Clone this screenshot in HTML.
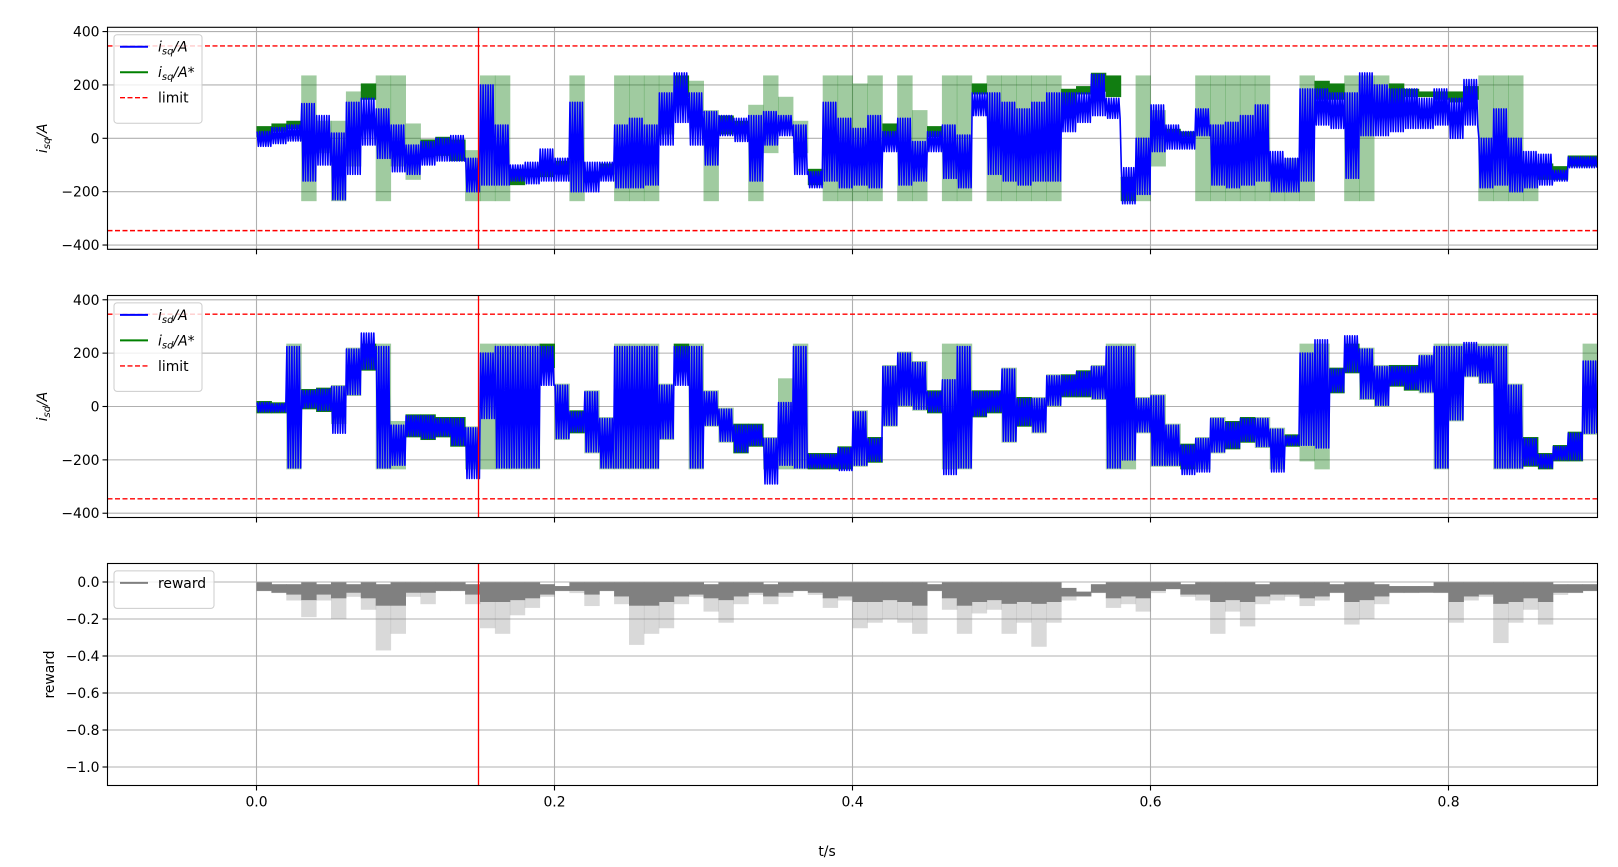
<!DOCTYPE html>
<html><head><meta charset="utf-8">
<style>
html,body{margin:0;padding:0;background:#fff;}
svg{display:block;font-family:"DejaVu Sans","Liberation Sans",sans-serif;}
</style></head>
<body>
<svg id="chart" width="1618" height="867" viewBox="0 0 1618 867" xmlns="http://www.w3.org/2000/svg"></svg>
<script>
// ---- data (binned every 0.01 s, t = 0.00 .. 0.89) ----
const binStart = 0.0, binWidth = 0.01;
const xTicks = [0.0, 0.2, 0.4, 0.6, 0.8];
const xTickLabels = ["0.0","0.2","0.4","0.6","0.8"];
const iTicks = [-400,-200,0,200,400];
const iTickLabels = ["\u2212400","\u2212200","0","200","400"];
const rTicks = [0.0,-0.2,-0.4,-0.6,-0.8,-1.0];
const rTickLabels = ["0.0","\u22120.2","\u22120.4","\u22120.6","\u22120.8","\u22121.0"];
const limitValue = 346;
const markerTime = 0.149;

const isqLo = [-30,-20,-10,-160,-100,-230,-135,-25,-75,-125,-135,-100,-85,-85,-200,-175,-175,-160,-170,-160,-160,-200,-200,-160,-185,-185,-175,-25,60,-25,-100,10,-12,-160,-25,10,-135,-185,-160,-185,-175,-185,-50,
 -175,-160,-50,-150,-185,85,-135,-160,-175,-160,-160,25,60,85,75,-245,-210,-50,-40,-40,10,-175,-185,-175,-160,-200,-200,-160,50,37,-150,10,10,25,37,37,50,0,50,-185,-175,-200,-185,-175,-160,-110,-110];
const isqHi = [25,40,50,130,85,20,135,150,110,50,-25,-12,0,10,-75,200,50,-100,-90,-40,-75,135,-90,-90,50,75,50,170,245,170,100,85,75,85,100,85,50,-125,135,75,37,85,25,
 75,-12,25,50,12,170,170,135,110,135,170,170,170,240,150,-110,0,125,50,25,110,50,60,85,125,-50,-75,185,185,170,170,245,200,185,185,150,185,150,220,0,110,0,-50,-60,-120,-70,-70];
const isqRefLo = [10,30,40,-230,-50,-230,-100,150,-230,-100,-150,-60,-60,-80,-230,-230,-230,-170,-140,-140,-130,-230,-160,-130,-230,-230,-230,20,160,100,-230,20,30,-230,-50,40,-50,-170,-230,-230,-230,-230,0,
 -230,-230,10,-230,-230,170,-230,-230,-230,-230,-230,120,170,180,160,-230,-230,-100,0,10,-230,-230,-230,-230,-230,-230,-230,-230,150,150,-230,-230,100,130,160,160,150,140,150,-230,-230,-230,-230,-150,-150,-100,-100];
const isqRefHi = [40,50,60,230,60,60,170,200,230,230,50,-10,0,-10,-50,230,230,-120,-120,-100,-90,230,-130,-100,230,230,230,230,230,210,100,80,60,120,230,150,60,-120,230,230,200,230,50,
 230,100,40,230,230,200,230,230,230,230,230,180,190,240,230,-150,230,100,30,20,230,230,230,230,230,-100,-80,230,210,200,230,230,230,200,180,170,170,170,190,230,230,230,-100,-100,-110,-70,-70];

const isdLo = [-20,-20,-230,-5,-15,-100,45,140,-230,-220,-110,-120,-110,-145,-270,-45,-230,-230,-230,80,-120,-95,-170,-230,-230,-230,-230,-120,80,-230,-70,-130,-170,-145,-290,-220,-230,-230,-230,-240,-220,-205,-70,
 5,-10,-20,-255,-230,-35,-20,-130,-70,-95,5,40,40,30,-230,-200,-95,-220,-220,-255,-245,-170,-155,-130,-150,-245,-145,-145,-155,55,130,30,5,80,65,55,-230,-50,115,90,-230,-230,-220,-230,-200,-200,-100];
const isdHi = [15,10,225,60,65,75,215,275,225,-70,-35,-35,-45,-45,-80,200,225,225,225,225,80,-20,55,-45,225,225,225,80,225,225,55,-10,-70,-70,-120,15,225,-180,-180,-155,-20,-120,150,
 200,165,55,100,225,55,55,140,30,30,115,115,130,150,225,225,30,40,-70,-145,-120,-45,-60,-45,-45,-85,-110,200,250,140,265,215,150,150,150,190,225,225,240,225,225,80,-120,-180,-150,-100,170];
const isdRefLo = [-20,-20,-230,-5,-15,-60,45,140,-230,-230,-110,-120,-110,-145,-230,-230,-230,-230,-230,150,-120,-95,-170,-230,-230,-230,-230,-120,180,-230,-70,-130,-170,-145,-230,-230,-230,-230,-230,-230,-220,-205,-70,
 5,-10,-20,-230,-230,-35,-20,-130,-70,-95,5,40,40,30,-230,-230,-95,-220,-220,-230,-230,-170,-155,-130,-150,-230,-145,-200,-230,55,130,30,5,80,65,55,-230,-50,115,90,-230,-230,-220,-230,-200,-200,-100];
const isdRefHi = [15,10,230,60,65,75,215,230,230,-60,-35,-35,-45,-45,-80,230,230,230,230,230,80,-20,55,-45,230,230,230,80,230,230,55,-10,-70,-70,-120,100,230,-180,-180,-155,-20,-120,150,
 200,165,55,230,230,55,55,140,30,30,115,115,130,150,230,230,30,40,-70,-145,-120,-45,-60,-45,-45,-85,-110,230,230,140,230,215,150,150,150,190,230,230,230,230,230,80,-120,-180,-150,-100,230];

const rewardHi = [-0.01,-0.02,-0.02,-0.01,-0.02,-0.01,-0.02,-0.01,-0.02,-0.01,-0.01,-0.01,-0.01,-0.01,-0.02,-0.01,-0.01,-0.01,-0.01,-0.02,
 -0.03,-0.01,-0.01,-0.01,-0.01,-0.01,-0.01,-0.01,-0.01,-0.01,-0.02,-0.01,-0.01,-0.01,-0.02,-0.01,-0.01,-0.01,-0.01,-0.01,
 -0.01,-0.01,-0.01,-0.01,-0.01,-0.02,-0.01,-0.01,-0.01,-0.01,-0.01,-0.01,-0.01,-0.01,-0.04,-0.06,-0.02,-0.01,-0.01,-0.01,
 -0.01,-0.01,-0.02,-0.01,-0.01,-0.01,-0.01,-0.02,-0.01,-0.01,-0.01,-0.01,-0.02,-0.01,-0.01,-0.02,-0.03,-0.03,-0.03,-0.01,
 -0.01,-0.01,-0.01,-0.01,-0.01,-0.01,-0.01,-0.02,-0.02,-0.02];
const rewardMid = [-0.04,-0.05,-0.06,-0.09,-0.06,-0.08,-0.05,-0.08,-0.12,-0.12,-0.05,-0.05,-0.04,-0.04,-0.06,-0.10,-0.10,-0.09,-0.08,-0.06,
 -0.04,-0.04,-0.06,-0.04,-0.07,-0.12,-0.12,-0.10,-0.07,-0.06,-0.08,-0.09,-0.07,-0.05,-0.07,-0.05,-0.04,-0.05,-0.08,-0.07,
 -0.10,-0.10,-0.09,-0.10,-0.12,-0.04,-0.08,-0.12,-0.10,-0.09,-0.11,-0.10,-0.11,-0.10,-0.07,-0.07,-0.05,-0.08,-0.07,-0.08,
 -0.04,-0.03,-0.06,-0.06,-0.10,-0.09,-0.10,-0.07,-0.06,-0.06,-0.08,-0.07,-0.05,-0.10,-0.09,-0.07,-0.05,-0.05,-0.05,-0.05,
 -0.10,-0.07,-0.06,-0.11,-0.10,-0.08,-0.10,-0.05,-0.05,-0.04];
const rewardLo = [-0.05,-0.06,-0.10,-0.19,-0.10,-0.20,-0.08,-0.15,-0.37,-0.28,-0.08,-0.12,-0.05,-0.05,-0.12,-0.25,-0.28,-0.18,-0.14,-0.08,
 -0.05,-0.06,-0.13,-0.05,-0.12,-0.34,-0.28,-0.25,-0.12,-0.08,-0.16,-0.22,-0.12,-0.07,-0.12,-0.08,-0.05,-0.07,-0.14,-0.10,
 -0.25,-0.22,-0.20,-0.22,-0.28,-0.05,-0.15,-0.28,-0.17,-0.15,-0.28,-0.22,-0.35,-0.22,-0.10,-0.07,-0.06,-0.14,-0.12,-0.16,
 -0.06,-0.04,-0.08,-0.10,-0.28,-0.16,-0.24,-0.12,-0.10,-0.08,-0.13,-0.10,-0.06,-0.23,-0.20,-0.12,-0.06,-0.06,-0.05,-0.06,
 -0.22,-0.10,-0.08,-0.33,-0.22,-0.15,-0.23,-0.07,-0.06,-0.05];

// ---- layout ----
const NS = "http://www.w3.org/2000/svg";
const svg = document.getElementById('chart');
const axL = 107.5, axR = 1597.5, tMin = -0.1, tMax = 0.9;
const X = t => axL + (t - tMin) / (tMax - tMin) * (axR - axL);
const panels = [
  {top:27.3, bot:249.3, ymin:-416, ymax:416},
  {top:295.5, bot:517.5, ymin:-416, ymax:416},
  {top:563.5, bot:785.5, ymin:-1.1, ymax:0.1}
];
function Yf(p){ return v => p.bot - (v - p.ymin)/(p.ymax - p.ymin)*(p.bot - p.top); }
function el(tag, attrs, parent){
  const e = document.createElementNS(NS, tag);
  for (const k in attrs) e.setAttribute(k, attrs[k]);
  (parent||svg).appendChild(e); return e;
}

const defs = el('defs',{});
panels.forEach((p,i)=>{
  const cp = el('clipPath',{id:'clip'+i}, defs);
  el('rect',{x:axL,y:p.top,width:axR-axL,height:p.bot-p.top}, cp);
});

function drawGridAndTicks(p, idx, yt, ytl, showXLabels){
  const Y = Yf(p);
  const g = el('g',{});
  
  
  xTicks.forEach((t,k)=>{
    const gl = el('line',{x1:X(t),x2:X(t),y1:p.top,y2:p.bot,stroke:'#b0b0b0','stroke-width':1.1}, g);
    
    
    el('line',{x1:X(t),x2:X(t),y1:p.bot,y2:p.bot+5,stroke:'#000','stroke-width':1.1}, g);
    if (showXLabels){
      const tx = el('text',{x:X(t),y:p.bot+21,'text-anchor':'middle','font-size':13.9,fill:'#000'}, g);
      tx.textContent = xTickLabels[k];
      
      
    }
  });
  yt.forEach((v,k)=>{
    const gl = el('line',{x1:axL,x2:axR,y1:Y(v),y2:Y(v),stroke:'#b0b0b0','stroke-width':1.1}, g);
    
    
    el('line',{x1:axL-5,x2:axL,y1:Y(v),y2:Y(v),stroke:'#000','stroke-width':1.1}, g);
    const tx = el('text',{x:axL-8,y:Y(v)+5,'text-anchor':'end','font-size':13.9,fill:'#000'}, g);
    tx.textContent = ytl[k];
    
    
  });
}

function drawCurrentPanel(p, idx, lo, hi, rLo, rHi){
  const Y = Yf(p);
  const g = el('g',{'clip-path':'url(#clip'+idx+')'});
  
  
  for (let i=0;i<rLo.length;i++){
    const t0 = binStart + i*binWidth;
    const y1 = Y(rHi[i]), y2 = Y(rLo[i]);
    const wide = (rHi[i]-rLo[i]) > 100;
    const r = el('rect',{x:X(t0),y:Math.min(y1,y2)-1.5,width:X(t0+binWidth)-X(t0)+0.5,height:Math.abs(y2-y1)+3,
      fill:'#117d11','fill-opacity': wide?0.4:1}, g);
    
    
  }
  const pts = [];
  const n = 6;
  for (let i=0;i<lo.length;i++){
    const t0 = binStart + i*binWidth;
    for (let k=0;k<n;k++){
      pts.push(X(t0 + (k*2+0.5)/(2*n)*binWidth).toFixed(1)+','+Y(hi[i]).toFixed(1));
      pts.push(X(t0 + (k*2+1.5)/(2*n)*binWidth).toFixed(1)+','+Y(lo[i]).toFixed(1));
    }
  }
  const pl = el('polyline',{points:pts.join(' '),fill:'none',stroke:'#0000ff','stroke-width':1.6,'stroke-linejoin':'round'}, g);
  
  
  [limitValue,-limitValue].forEach(v=>{
    const l = el('line',{x1:axL,x2:axR,y1:Y(v),y2:Y(v),stroke:'#ff0000','stroke-width':1.4,'stroke-dasharray':'5,2.5'}, g);
    
    
  });
}

function drawRewardPanel(p, idx){
  const Y = Yf(p);
  const g = el('g',{'clip-path':'url(#clip'+idx+')'});
  
  
  for (let i=0;i<rewardLo.length;i++){
    const t0 = binStart + i*binWidth, x = X(t0), w = X(t0+binWidth)-x+0.5;
    const a = el('rect',{x:x,y:Y(rewardHi[i])-1.5,width:w,height:Y(rewardMid[i])-Y(rewardHi[i])+3,fill:'#808080'}, g);
    
    
    const b = el('rect',{x:x,y:Y(rewardMid[i]),width:w,height:Math.max(0,Y(rewardLo[i])-Y(rewardMid[i])),fill:'#808080','fill-opacity':0.3}, g);
    
    
  }
}

function drawMarkerAndFrame(p, idx){
  const m = el('line',{x1:X(markerTime),x2:X(markerTime),y1:p.top,y2:p.bot,stroke:'#ff0000','stroke-width':1.3});
  
  
  const f = el('rect',{x:axL,y:p.top,width:axR-axL,height:p.bot-p.top,fill:'none',stroke:'#000','stroke-width':1.1});
  
  
}

function legend(p, entries, idx, w){
  const g = el('g',{});
  
  
  const h = 12 + entries.length*25.5;
  el('rect',{x:114,y:p.top+7.4,width:w,height:h,rx:3,fill:'#fff','fill-opacity':0.8,stroke:'#cccccc','stroke-width':1}, g);
  entries.forEach((e,k)=>{
    const cy = p.top + 19.4 + k*25.5;
    const ln = el('line',{x1:120,x2:148,y1:cy,y2:cy,stroke:e.c,'stroke-width':e.dash?1.4:2,'stroke-dasharray':e.dash?'5,2.5':'none'}, g);
    
    
    const tx = el('text',{x:158,y:cy+5,'font-size':13.9,fill:'#000'}, g);
    
    
    tx.innerHTML = e.html;
  });
}

function ylabel(x, y, html, name){
  const tx = el('text',{x:0,y:0,transform:'translate('+x+','+y+') rotate(-90)','text-anchor':'middle','font-size':13.9,fill:'#000'});
  
  
  tx.innerHTML = html;
}

drawGridAndTicks(panels[0],0,iTicks,iTickLabels,false);
drawGridAndTicks(panels[1],1,iTicks,iTickLabels,false);
drawGridAndTicks(panels[2],2,rTicks,rTickLabels,true);
drawCurrentPanel(panels[0],0,isqLo,isqHi,isqRefLo,isqRefHi);
drawCurrentPanel(panels[1],1,isdLo,isdHi,isdRefLo,isdRefHi);
drawRewardPanel(panels[2],2);
panels.forEach((p,i)=>drawMarkerAndFrame(p,i));

const sq = '<tspan font-style="italic">i</tspan><tspan font-style="italic" font-size="10" dy="3">sq</tspan><tspan dy="-3" font-style="italic">/A</tspan>';
const sd = '<tspan font-style="italic">i</tspan><tspan font-style="italic" font-size="10" dy="3">sd</tspan><tspan dy="-3" font-style="italic">/A</tspan>';
legend(panels[0],[{c:'#0000ff',html:sq},{c:'#008000',html:sq+'<tspan font-style="italic">*</tspan>'},{c:'#ff0000',dash:true,html:'limit'}],0,88);
legend(panels[1],[{c:'#0000ff',html:sd},{c:'#008000',html:sd+'<tspan font-style="italic">*</tspan>'},{c:'#ff0000',dash:true,html:'limit'}],1,88);
legend(panels[2],[{c:'#808080',html:'reward'}],2,100);

ylabel(47,138.3,sq,'y-axis-title-isq');
ylabel(47,406.5,sd,'y-axis-title-isd');
ylabel(54,674.5,'reward','y-axis-title-reward');
const xl = el('text',{x:827,y:856,'text-anchor':'middle','font-size':13.9,fill:'#000'});
xl.textContent = 't/s';


</script>
</body></html>
